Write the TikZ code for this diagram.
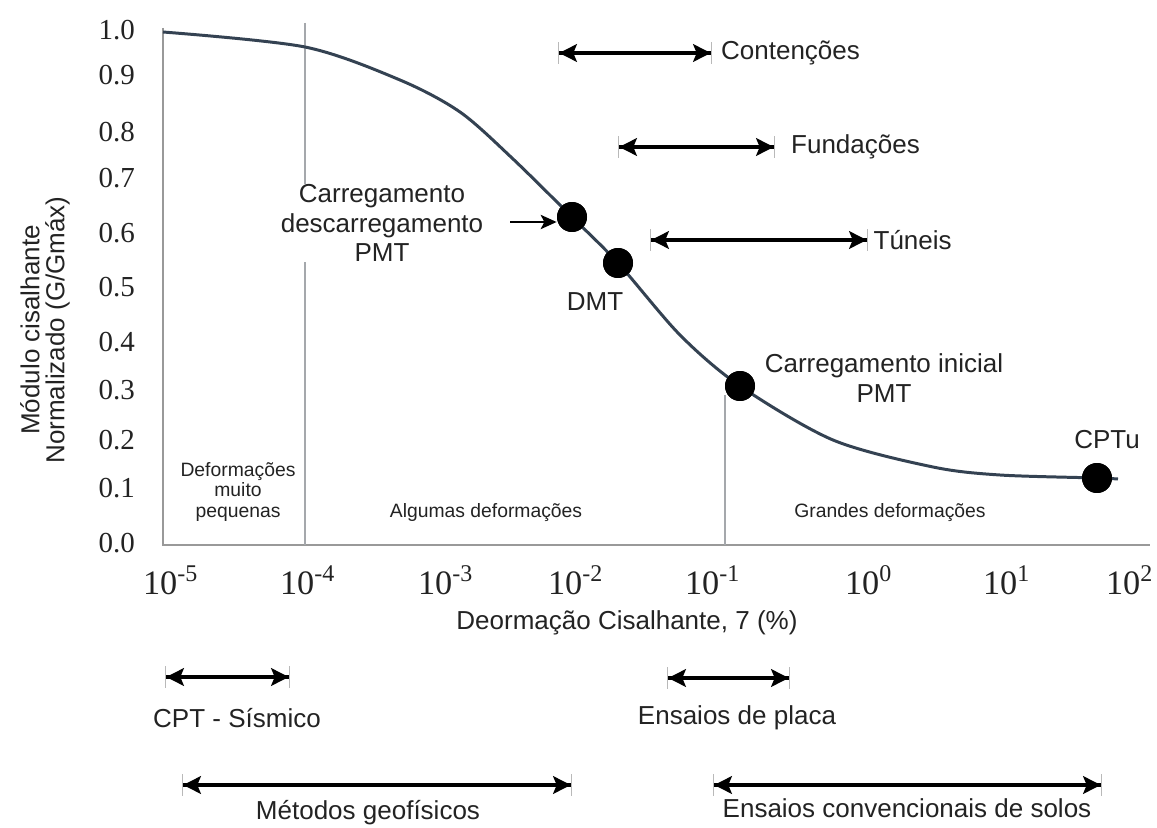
\documentclass[tikz,border=0pt]{standalone}
\usepackage{fontspec}
\setmainfont{Liberation Sans}
\newfontfamily\tickfont{Liberation Serif}
\usetikzlibrary{arrows.meta, positioning}
\definecolor{curveblue}{RGB}{52,66,82}
\definecolor{gridgray}{RGB}{165,168,172}
\definecolor{textgray}{RGB}{35,35,35}

\begin{document}
\begin{tikzpicture}[x=0.02cm, y=-0.02cm, >={Stealth[length=8pt,width=8pt]},
    every node/.style={inner sep=1pt, text=textgray},
    lbl/.style={font=\fontsize{14.8}{17}\selectfont, align=center},
    smalllbl/.style={font=\fontsize{11}{11.4}\selectfont, align=center},
    ytick/.style={font=\tickfont\fontsize{16.5}{18}\selectfont, anchor=east},
    xtick/.style={font=\tickfont\fontsize{19.5}{22}\selectfont, anchor=west},
    ptdot/.style={circle, fill=black, minimum size=0.6cm, inner sep=0pt},
    rangearrow/.style={line width=2pt, {Bar[width=12pt,line width=0.7pt,color=gray!55] Stealth[length=10pt,width=10pt,inset=2pt]}-{Stealth[length=10pt,width=10pt,inset=2pt] Bar[width=12pt,line width=0.7pt,color=gray!55]}},
    gridline/.style={gridgray, line width=1.2pt}]
    \fill[white] (0,0) rectangle (1157,828);
    \useasboundingbox (0,0) rectangle (1157,828);

    % Frame and region lines
    \coordinate (topleft) at (163,28);
    \coordinate (origin) at (163,545);
    \coordinate (bottomright) at (1150,545);
    \coordinate (smalltop) at (305,23);
    \coordinate (smallbot) at (305,545);
    \coordinate (largetop) at (725,395);
    \coordinate (largebot) at (725,545);
    \draw[gray!80, line width=1.5pt] (topleft) -- (origin) -- (bottomright);
    \draw[gridline] (smalltop) -- (smallbot);
    \draw[gridline] (largetop) -- (largebot);

    % Y tick labels
    \node[ytick] (y10) at (137,30) {1.0};
    \node[ytick] (y09) at (137,75) {0.9};
    \node[ytick] (y08) at (137,132) {0.8};
    \node[ytick] (y07) at (137,178) {0.7};
    \node[ytick] (y06) at (137,233) {0.6};
    \node[ytick] (y05) at (137,287) {0.5};
    \node[ytick] (y04) at (137,342) {0.4};
    \node[ytick] (y03) at (137,390) {0.3};
    \node[ytick] (y02) at (137,440) {0.2};
    \node[ytick] (y01) at (137,488) {0.1};
    \node[ytick] (y00) at (137,543) {0.0};

    % X tick labels
    \node[xtick] (xm5) at (141,580) {10\textsuperscript{-5}};
    \node[xtick] (xm4) at (278,580) {10\textsuperscript{-4}};
    \node[xtick] (xm3) at (416,580) {10\textsuperscript{-3}};
    \node[xtick] (xm2) at (546,580) {10\textsuperscript{-2}};
    \node[xtick] (xm1) at (683,580) {10\textsuperscript{-1}};
    \node[xtick] (x0) at (843,580) {10\textsuperscript{0}};
    \node[xtick] (x1) at (981,580) {10\textsuperscript{1}};
    \node[xtick] (x2) at (1104,580) {10\textsuperscript{2}};

    % Axis titles
    \node[lbl] (xtitle) at (627,623) {Deormação Cisalhante, 7 (\%)};
    \node[lbl, rotate=90, font=\fontsize{14.8}{14.2}\selectfont] (ytitle) at (45,330) {Módulo cisalhante\\Normalizado (G/Gmáx)};

    % Region labels
    \node[smalllbl] (regsmall) at (238,492) {Deformações\\muito\\pequenas};
    \node[smalllbl] (regsome) at (486,513) {Algumas deformações};
    \node[smalllbl] (reglarge) at (890,513) {Grandes deformações};

    % Curve
    \coordinate (c0) at (163,32);
    \coordinate (c1) at (305,47);
    \coordinate (c2) at (400,80);
    \coordinate (c3) at (460,112);
    \coordinate (c4) at (512,158);
    \coordinate (c5) at (680,335);
    \coordinate (c6) at (833,440);
    \coordinate (c7) at (933,467);
    \coordinate (c8) at (1000,475);
    \coordinate (c9) at (1118,479);
    \node[lbl, fill=white, inner sep=0pt] (lulp) at (382,223) {Carregamento\\descarregamento\\PMT};
    \node[ptdot] (pulp) at (572,217) {};
    \node[ptdot] (pdmt) at (618,263) {};
    \node[ptdot] (pinit) at (740,386) {};
    \node[ptdot] (pcptu) at (1097,478) {};
    \draw[curveblue, line width=1.7pt] plot[smooth] coordinates {(c0) (c1) (c2) (c3) (c4) (pulp.center) (pdmt.center) (c5) (pinit.center) (c6) (c7) (c8) (pcptu.center) (c9)};
    \node[ptdot] at (pulp) {};
    \node[ptdot] at (pdmt) {};
    \node[ptdot] at (pinit) {};
    \node[ptdot] at (pcptu) {};

    % Point labels
    \node[lbl] (ldmt) at (595,302) {DMT};
    \node[lbl] (linit) at (884,378) {Carregamento inicial\\PMT};
    \node[lbl] (lcptu) at (1107,440) {CPTu};
    \coordinate (ulpfrom) at (510,222);
    \draw[->, line width=1.6pt, >={Stealth[length=9pt,width=8pt,inset=2pt]}] (ulpfrom) -- (ulpfrom -| pulp.west);

    % Application ranges (top)
    \coordinate (cont1) at (558,53);
    \coordinate (cont2) at (712,53);
    \coordinate (fund1) at (618,147);
    \coordinate (fund2) at (775,147);
    \coordinate (tun1) at (650,240);
    \coordinate (tun2) at (868,240);
    \draw[rangearrow] (cont1) -- (cont2);
    \draw[rangearrow] (fund1) -- (fund2);
    \draw[rangearrow] (tun1) -- (tun2);
    \node[lbl, right=4pt of cont2] (lcont) {Contenções};
    \node[lbl, right=8pt of fund2] (lfund) {Fundações};
    \node[lbl, right=2pt of tun2] (ltun) {Túneis};

    % Test ranges (bottom)
    \coordinate (cpt1) at (165,677);
    \coordinate (cpt2) at (290,677);
    \coordinate (placa1) at (667,678);
    \coordinate (placa2) at (790,678);
    \coordinate (geo1) at (182,785);
    \coordinate (geo2) at (572,785);
    \coordinate (conv1) at (713,785);
    \coordinate (conv2) at (1102,785);
    \draw[rangearrow] (cpt1) -- (cpt2);
    \draw[rangearrow] (placa1) -- (placa2);
    \draw[rangearrow] (geo1) -- (geo2);
    \draw[rangearrow] (conv1) -- (conv2);
    \node[lbl] (lcpt) at (237,718) {CPT - Sísmico};
    \node[lbl] (lplaca) at (737,718) {Ensaios de placa};
    \node[lbl] (lgeo) at (368,813) {Métodos geofísicos};
    \node[lbl] (lconv) at (907,808) {Ensaios convencionais de solos};
\end{tikzpicture}
\end{document}
